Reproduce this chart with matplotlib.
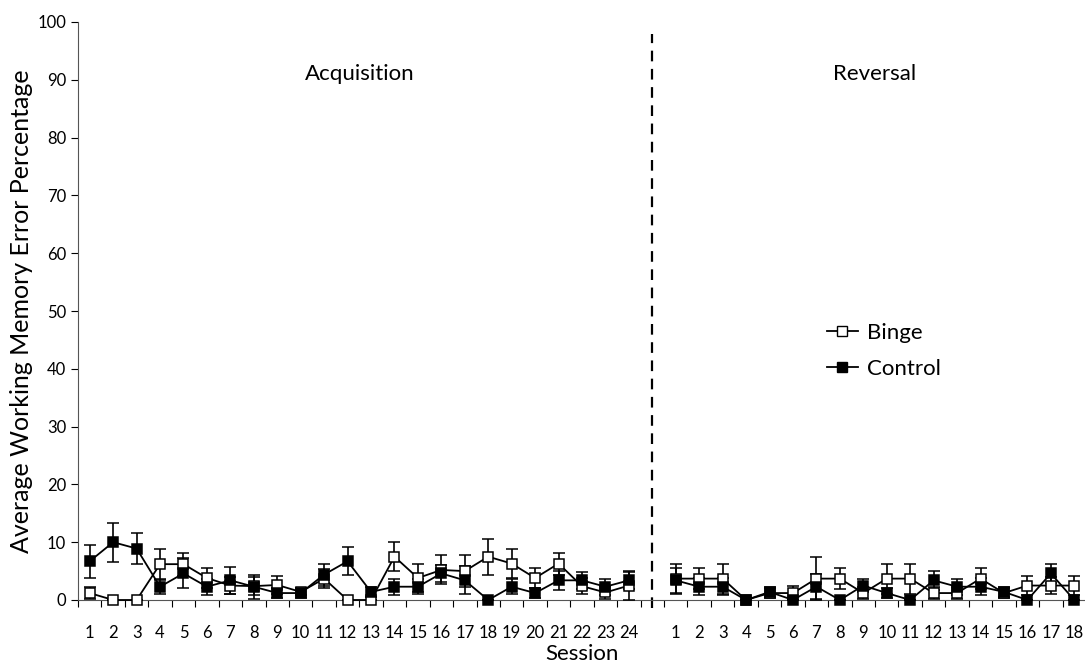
import numpy as np
import matplotlib.pyplot as plt
from matplotlib.lines import Line2D

plt.rcParams['font.family'] = ['Lato', 'DejaVu Sans']

acq_sessions = [str(i) for i in range(1, 25)]
rev_sessions = [str(i) for i in range(1, 19)]

# Acquisition phase
acq_binge = [1.2, 0, 0, 6.2, 6.2, 3.8, 2.5, 2.4, 2.6, 1.4, 3.7, 0,
             0, 7.5, 3.8, 5.2, 5.0, 7.5, 6.3, 3.8, 6.3, 2.4, 1.3, 2.5]
acq_binge_err = [1.1, 0, 0, 2.7, 2.0, 1.7, 1.5, 1.5, 1.5, 0.6, 1.6, 0,
                 0, 2.5, 2.5, 2.5, 2.7, 3.1, 2.5, 1.7, 1.9, 1.4, 1.1, 2.5]
acq_control = [6.7, 10.0, 8.9, 2.3, 4.6, 2.3, 3.4, 2.3, 1.2, 1.2, 4.4, 6.7,
               1.4, 2.3, 2.3, 4.6, 3.4, 0, 2.3, 1.2, 3.4, 3.4, 2.3, 3.4]
acq_control_err = [2.9, 3.4, 2.7, 1.3, 2.6, 1.4, 2.3, 2.1, 0.8, 0.8, 1.9, 2.4,
                   0.8, 1.4, 1.3, 1.5, 2.4, 0, 1.3, 0.8, 1.7, 1.5, 1.4, 1.5]

# Reversal phase
rev_binge = [3.7, 3.7, 3.7, 0, 1.2, 1.2, 3.7, 3.7, 1.2, 3.7, 3.7, 1.2,
             1.2, 3.7, 1.2, 2.5, 2.5, 2.5]
rev_binge_err = [2.6, 1.8, 2.6, 0, 0.8, 1.2, 3.7, 1.8, 1.1, 2.6, 2.6, 1.1,
                 1.1, 1.8, 0.8, 1.6, 1.5, 1.6]
rev_control = [3.4, 2.3, 2.3, 0, 1.4, 0, 2.3, 0, 2.5, 1.2, 0, 3.4,
               2.3, 2.3, 1.4, 0, 4.6, 0]
rev_control_err = [2.2, 1.5, 1.5, 0, 0.8, 0, 2.2, 0, 1.2, 0.8, 0, 1.6,
                   1.4, 1.5, 0.8, 0, 1.7, 0]


def draw_series(ax, x, y, err, face):
    ax.errorbar(x, y, yerr=err, color='black', marker='s', markersize=7,
                markerfacecolor=face, markeredgecolor='black', markeredgewidth=1.1,
                linewidth=1.3, elinewidth=1.2, capsize=4, capthick=1.2,
                zorder=3, clip_on=False)


fig = plt.figure(figsize=(10.85, 6.64), dpi=100)
ax = fig.add_axes([78 / 1085, 64 / 664, 1008 / 1085, 578 / 664])

n_acq = len(acq_sessions)
x_acq = np.arange(n_acq)
x_rev = np.arange(len(rev_sessions)) + n_acq + 1

draw_series(ax, x_acq, acq_binge, acq_binge_err, 'white')
draw_series(ax, x_acq, acq_control, acq_control_err, 'black')
draw_series(ax, x_rev, rev_binge, rev_binge_err, 'white')
draw_series(ax, x_rev, rev_control, rev_control_err, 'black')

# phase separator, runs a little below the axis like the original
ax.plot([n_acq, n_acq], [-1.4, 98], color='black', linestyle=(0, (4.8, 3.4)),
        linewidth=1.6, clip_on=False)

ax.set_xlim(-0.5, x_rev[-1] + 0.5)
ax.set_ylim(0, 100)
ax.set_yticks(np.arange(0, 101, 10))

ax.set_xticks(np.concatenate([x_acq, x_rev]))
ax.set_xticklabels(acq_sessions + rev_sessions)
ax.set_xticks(np.arange(-0.5, x_rev[-1] + 1, 1), minor=True)
ax.tick_params(axis='x', which='major', length=0, pad=18, labelsize=12)
ax.tick_params(axis='x', which='minor', length=5, direction='out', width=0.8)
ax.tick_params(axis='y', length=5, direction='out', width=0.8, labelsize=12)

for side in ['top', 'right']:
    ax.spines[side].set_visible(False)
ax.spines['left'].set_color('#555555')
ax.spines['bottom'].set_color('#555555')

ax.text(11.5, 91, 'Acquisition', ha='center', va='center', fontsize=16)
ax.text(33.5, 91, 'Reversal', ha='center', va='center', fontsize=16)

ax.set_ylabel('Average Working Memory Error Percentage', fontsize=18, labelpad=3)
ax.set_xlabel('Session', fontsize=16, labelpad=2)

handles = [
    Line2D([], [], color='black', marker='s', markersize=7, markerfacecolor='white',
           markeredgecolor='black', linewidth=1.3),
    Line2D([], [], color='black', marker='s', markersize=7, markerfacecolor='black',
           markeredgecolor='black', linewidth=1.3),
]
ax.legend(handles, ['Binge', 'Control'], loc='center left',
          bbox_to_anchor=(0.743, 0.431), frameon=False, borderaxespad=0,
          borderpad=0, fontsize=16, handlelength=1.4, handletextpad=0.4,
          labelspacing=0.75)

plt.savefig('out.png', dpi=100)
